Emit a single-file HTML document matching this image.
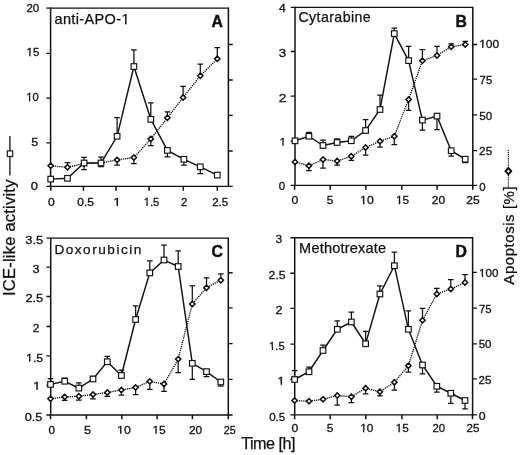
<!DOCTYPE html>
<html><head><meta charset="utf-8"><title>figure</title>
<style>
html,body{margin:0;padding:0;background:#fff;}
body{width:520px;height:455px;overflow:hidden;}
svg{display:block;filter:grayscale(1);}
text{font-family:"Liberation Sans", sans-serif;fill:#111;}
.t{stroke:#111;stroke-width:0.3px;}
.b{font-weight:bold;}
</style></head>
<body>
<svg width="520" height="455" viewBox="0 0 520 455">
<rect width="520" height="455" fill="#fff"/>
<path d="M50.6 8.1H228.4M50.6 186.4H228.4" fill="none" stroke="#111" stroke-width="1.3"/>
<path d="M50.6 7.45V187.05M228.4 7.45V187.05" fill="none" stroke="#111" stroke-width="1.5"/>
<path d="M46.30 8.1H50.6M46.30 53.4H50.6M46.30 98.1H50.6M46.30 142.9H50.6M46.30 186.4H50.6M228.4 44.5H232.70M228.4 80.0H232.70M228.4 115.4H232.70M228.4 151.0H232.70M228.4 186.4H232.70" stroke="#111" stroke-width="1.3"/>
<path d="M50.85 186.4V190.70M83.46 186.4V190.70M116.08 186.4V190.70M149.1 186.4V190.70M183.3 186.4V190.70M217.3 186.4V190.70" stroke="#111" stroke-width="1.5"/>
<text x="26.42" y="11.72" class="t" font-size="11.4" textLength="12.83" lengthAdjust="spacingAndGlyphs">20</text>
<text x="26.49" y="56.32" class="t" font-size="11.4" textLength="12.79" lengthAdjust="spacingAndGlyphs">15</text>
<text x="26.33" y="101.42" class="t" font-size="11.4" textLength="12.41" lengthAdjust="spacingAndGlyphs">10</text>
<text x="31.20" y="145.57" class="t" font-size="11.4" textLength="6.92" lengthAdjust="spacingAndGlyphs">5</text>
<text x="30.89" y="190.22" class="t" font-size="11.4" textLength="7.21" lengthAdjust="spacingAndGlyphs">0</text>
<text x="47.93" y="206.02" class="t" font-size="11.4" textLength="6.75" lengthAdjust="spacingAndGlyphs">0</text>
<text x="77.33" y="206.02" class="t" font-size="11.4" textLength="16.67" lengthAdjust="spacingAndGlyphs">0.5</text>
<text x="113.22" y="206.02" class="t" font-size="11.4" textLength="7.61" lengthAdjust="spacingAndGlyphs">1</text>
<text x="143.72" y="206.02" class="t" font-size="11.4" textLength="15.66" lengthAdjust="spacingAndGlyphs">1.5</text>
<text x="181.13" y="206.02" class="t" font-size="11.4" textLength="6.35" lengthAdjust="spacingAndGlyphs">2</text>
<text x="212.22" y="206.02" class="t" font-size="11.4" textLength="15.96" lengthAdjust="spacingAndGlyphs">2.5</text>
<polyline points="50.7,165.8 67.5,167.3 84.1,163.5 101.0,163 117.1,159.9 133.9,157.5 150.8,138.9 167.4,117.8 183.1,97.5 200.3,75.8 217.3,58.75" fill="none" stroke="#111" stroke-width="1.35" stroke-dasharray="1.25 0.9"/>
<path d="M67.5 167.3V162.7M64.7 162.7H70.3M84.1 163.5V169.6M81.3 169.6H86.9M101.0 163V166.5M98.2 166.5H103.8M117.1 159.9V165M114.3 165H119.9M133.9 157.5V163.7M131.1 163.7H136.7M150.8 138.9V145.5M148.0 145.5H153.6M167.4 117.8V111.9M164.6 111.9H170.2M183.1 97.5V86.3M180.3 86.3H185.9M200.3 75.8V64.1M197.5 64.1H203.1M217.3 58.75V47.5M214.5 47.5H220.1" stroke="#111" stroke-width="1.25" fill="none"/>
<path d="M48.05 165.8L50.7 163.15L53.35 165.8L50.7 168.45Z" fill="#fff" stroke="#111" stroke-width="1.5"/>
<path d="M64.85 167.3L67.5 164.65L70.15 167.3L67.5 169.95Z" fill="#fff" stroke="#111" stroke-width="1.5"/>
<path d="M81.45 163.5L84.1 160.85L86.75 163.5L84.1 166.15Z" fill="#fff" stroke="#111" stroke-width="1.5"/>
<path d="M98.35 163L101.0 160.35L103.65 163L101.0 165.65Z" fill="#fff" stroke="#111" stroke-width="1.5"/>
<path d="M114.45 159.9L117.1 157.25L119.75 159.9L117.1 162.55Z" fill="#fff" stroke="#111" stroke-width="1.5"/>
<path d="M131.25 157.5L133.9 154.85L136.55 157.5L133.9 160.15Z" fill="#fff" stroke="#111" stroke-width="1.5"/>
<path d="M148.15 138.9L150.8 136.25L153.45 138.9L150.8 141.55Z" fill="#fff" stroke="#111" stroke-width="1.5"/>
<path d="M164.75 117.8L167.4 115.15L170.05 117.8L167.4 120.45Z" fill="#fff" stroke="#111" stroke-width="1.5"/>
<path d="M180.45 97.5L183.1 94.85L185.75 97.5L183.1 100.15Z" fill="#fff" stroke="#111" stroke-width="1.5"/>
<path d="M197.65 75.8L200.3 73.15L202.95 75.8L200.3 78.45Z" fill="#fff" stroke="#111" stroke-width="1.5"/>
<path d="M214.65 58.75L217.3 56.1L219.95 58.75L217.3 61.4Z" fill="#fff" stroke="#111" stroke-width="1.5"/>
<polyline points="50.7,179.1 67.5,178.3 84.1,163 101.0,163 117.1,136.3 133.9,66.5 150.8,119.3 167.4,150.4 183.9,159.3 200.3,166.8 217.3,175.1" fill="none" stroke="#111" stroke-width="1.45"/>
<path d="M84.1 163V157.3M81.3 157.3H86.9M101.0 163V157M98.2 157H103.8M117.1 136.3V117.5M114.3 117.5H119.9M133.9 66.5V49.9M131.1 49.9H136.7M150.8 119.3V102.8M148.0 102.8H153.6M167.4 150.4V156.9M164.6 156.9H170.2M183.9 159.3V165.2M181.1 165.2H186.7M200.3 166.8V173.5M197.5 173.5H203.1" stroke="#111" stroke-width="1.25" fill="none"/>
<rect x="47.90" y="176.30" width="5.6" height="5.6" fill="#fff" stroke="#111" stroke-width="1.15"/>
<rect x="64.70" y="175.50" width="5.6" height="5.6" fill="#fff" stroke="#111" stroke-width="1.15"/>
<rect x="81.30" y="160.20" width="5.6" height="5.6" fill="#fff" stroke="#111" stroke-width="1.15"/>
<rect x="98.20" y="160.20" width="5.6" height="5.6" fill="#fff" stroke="#111" stroke-width="1.15"/>
<rect x="114.30" y="133.50" width="5.6" height="5.6" fill="#fff" stroke="#111" stroke-width="1.15"/>
<rect x="131.10" y="63.70" width="5.6" height="5.6" fill="#fff" stroke="#111" stroke-width="1.15"/>
<rect x="148.00" y="116.50" width="5.6" height="5.6" fill="#fff" stroke="#111" stroke-width="1.15"/>
<rect x="164.60" y="147.60" width="5.6" height="5.6" fill="#fff" stroke="#111" stroke-width="1.15"/>
<rect x="181.10" y="156.50" width="5.6" height="5.6" fill="#fff" stroke="#111" stroke-width="1.15"/>
<rect x="197.50" y="164.00" width="5.6" height="5.6" fill="#fff" stroke="#111" stroke-width="1.15"/>
<rect x="214.50" y="172.30" width="5.6" height="5.6" fill="#fff" stroke="#111" stroke-width="1.15"/>
<text x="54.48" y="24.30" font-size="14.5" class="l" textLength="75.05" lengthAdjust="spacing" stroke="#111" stroke-width="0.25">anti-APO-1</text>
<text x="211.51" y="26.90" font-size="15.8" class="b" textLength="11.11" lengthAdjust="spacing" stroke="#111" stroke-width="0.45">A</text>
<path d="M295.0 7.4H472.8M295.0 185.4H472.8" fill="none" stroke="#111" stroke-width="1.3"/>
<path d="M295.0 6.75V186.05M472.8 6.75V186.05" fill="none" stroke="#111" stroke-width="1.5"/>
<path d="M290.70 7.4H295.0M290.70 51.5H295.0M290.70 96.2H295.0M290.70 141.4H295.0M290.70 185.4H295.0M472.8 44.5H477.10M472.8 79.1H477.10M472.8 114.9H477.10M472.8 150.6H477.10M472.8 185.4H477.10" stroke="#111" stroke-width="1.3"/>
<path d="M294.6 185.4V189.70M330.2 185.4V189.70M365.9 185.4V189.70M401.8 185.4V189.70M437.1 185.4V189.70M472.75 185.4V189.70" stroke="#111" stroke-width="1.5"/>
<text x="278.92" y="12.47" class="t" font-size="11.4" textLength="6.73" lengthAdjust="spacingAndGlyphs">4</text>
<text x="278.89" y="57.47" class="t" font-size="11.4" textLength="7.39" lengthAdjust="spacingAndGlyphs">3</text>
<text x="278.75" y="102.47" class="t" font-size="11.4" textLength="7.61" lengthAdjust="spacingAndGlyphs">2</text>
<text x="279.46" y="145.77" class="t" font-size="11.4" textLength="6.62" lengthAdjust="spacingAndGlyphs">1</text>
<text x="278.75" y="190.37" class="t" font-size="11.4" textLength="6.40" lengthAdjust="spacingAndGlyphs">0</text>
<text x="479.20" y="48.02" class="t" font-size="11.4" textLength="20.07" lengthAdjust="spacingAndGlyphs">100</text>
<text x="479.62" y="83.77" class="t" font-size="11.4" textLength="12.55" lengthAdjust="spacingAndGlyphs">75</text>
<text x="479.23" y="119.67" class="t" font-size="11.4" textLength="12.92" lengthAdjust="spacingAndGlyphs">50</text>
<text x="479.11" y="155.17" class="t" font-size="11.4" textLength="13.09" lengthAdjust="spacingAndGlyphs">25</text>
<text x="479.25" y="190.72" class="t" font-size="11.4" textLength="6.40" lengthAdjust="spacingAndGlyphs">0</text>
<text x="291.53" y="204.32" class="t" font-size="11.4" textLength="6.75" lengthAdjust="spacingAndGlyphs">0</text>
<text x="326.73" y="204.32" class="t" font-size="11.4" textLength="6.57" lengthAdjust="spacingAndGlyphs">5</text>
<text x="360.13" y="204.32" class="t" font-size="11.4" textLength="13.55" lengthAdjust="spacingAndGlyphs">10</text>
<text x="396.06" y="204.32" class="t" font-size="11.4" textLength="13.13" lengthAdjust="spacingAndGlyphs">15</text>
<text x="431.80" y="204.32" class="t" font-size="11.4" textLength="13.37" lengthAdjust="spacingAndGlyphs">20</text>
<text x="466.39" y="204.32" class="t" font-size="11.4" textLength="13.41" lengthAdjust="spacingAndGlyphs">25</text>
<polyline points="295.0,162 308.9,165.75 323.0,159.5 337.1,161 351.3,156.25 365.6,147.5 380.0,141.25 394.3,136.25 408.6,99.5 422.4,60.75 437.0,55.5 451.2,46.75 465.2,44.5" fill="none" stroke="#111" stroke-width="1.35" stroke-dasharray="1.25 0.9"/>
<path d="M308.9 165.75V170.5M306.1 170.5H311.7M323.0 159.5V168M320.2 168H325.8M337.1 161V165M334.3 165H339.9M351.3 156.25V160.3M348.5 160.3H354.1M365.6 147.5V155M362.8 155H368.4M380.0 141.25V147M377.2 147H382.8M394.3 136.25V144.5M391.5 144.5H397.1M408.6 99.5V110.3M405.8 110.3H411.4M422.4 60.75V49.5M419.6 49.5H425.2M437.0 55.5V46.25M434.2 46.25H439.8M451.2 46.75V43.75M448.4 43.75H454.0M465.2 44.5V41.25M462.4 41.25H468.0" stroke="#111" stroke-width="1.25" fill="none"/>
<path d="M292.35 162L295.0 159.35L297.65 162L295.0 164.65Z" fill="#fff" stroke="#111" stroke-width="1.5"/>
<path d="M306.25 165.75L308.9 163.1L311.55 165.75L308.9 168.4Z" fill="#fff" stroke="#111" stroke-width="1.5"/>
<path d="M320.35 159.5L323.0 156.85L325.65 159.5L323.0 162.15Z" fill="#fff" stroke="#111" stroke-width="1.5"/>
<path d="M334.45 161L337.1 158.35L339.75 161L337.1 163.65Z" fill="#fff" stroke="#111" stroke-width="1.5"/>
<path d="M348.65 156.25L351.3 153.6L353.95 156.25L351.3 158.9Z" fill="#fff" stroke="#111" stroke-width="1.5"/>
<path d="M362.95 147.5L365.6 144.85L368.25 147.5L365.6 150.15Z" fill="#fff" stroke="#111" stroke-width="1.5"/>
<path d="M377.35 141.25L380.0 138.6L382.65 141.25L380.0 143.9Z" fill="#fff" stroke="#111" stroke-width="1.5"/>
<path d="M391.65 136.25L394.3 133.6L396.95 136.25L394.3 138.9Z" fill="#fff" stroke="#111" stroke-width="1.5"/>
<path d="M405.95 99.5L408.6 96.85L411.25 99.5L408.6 102.15Z" fill="#fff" stroke="#111" stroke-width="1.5"/>
<path d="M419.75 60.75L422.4 58.1L425.05 60.75L422.4 63.4Z" fill="#fff" stroke="#111" stroke-width="1.5"/>
<path d="M434.35 55.5L437.0 52.85L439.65 55.5L437.0 58.15Z" fill="#fff" stroke="#111" stroke-width="1.5"/>
<path d="M448.55 46.75L451.2 44.1L453.85 46.75L451.2 49.4Z" fill="#fff" stroke="#111" stroke-width="1.5"/>
<path d="M462.55 44.5L465.2 41.85L467.85 44.5L465.2 47.15Z" fill="#fff" stroke="#111" stroke-width="1.5"/>
<polyline points="295.0,140.8 308.9,136.25 323.0,145.5 337.1,142.5 351.3,140.75 365.6,130.5 380.0,109.5 394.3,33.6 408.6,60.6 422.4,120.1 437.0,116.1 451.2,150.7 465.2,159.2" fill="none" stroke="#111" stroke-width="1.45"/>
<path d="M308.9 136.25V132.4M306.1 132.4H311.7M323.0 145.5V140M320.2 140H325.8M337.1 142.5V138.75M334.3 138.75H339.9M351.3 140.75V136.25M348.5 136.25H354.1M365.6 130.5V119.5M362.8 119.5H368.4M380.0 109.5V95M377.2 95H382.8M394.3 33.6V28M391.5 28H397.1M408.6 60.6V46.25M405.8 46.25H411.4M422.4 120.1V130.1M419.6 130.1H425.2M437.0 116.1V129.6M434.2 129.6H439.8M451.2 150.7V156M448.4 156H454.0M465.2 159.2V162.6M462.4 162.6H468.0" stroke="#111" stroke-width="1.25" fill="none"/>
<rect x="292.20" y="138.00" width="5.6" height="5.6" fill="#fff" stroke="#111" stroke-width="1.15"/>
<rect x="306.10" y="133.45" width="5.6" height="5.6" fill="#fff" stroke="#111" stroke-width="1.15"/>
<rect x="320.20" y="142.70" width="5.6" height="5.6" fill="#fff" stroke="#111" stroke-width="1.15"/>
<rect x="334.30" y="139.70" width="5.6" height="5.6" fill="#fff" stroke="#111" stroke-width="1.15"/>
<rect x="348.50" y="137.95" width="5.6" height="5.6" fill="#fff" stroke="#111" stroke-width="1.15"/>
<rect x="362.80" y="127.70" width="5.6" height="5.6" fill="#fff" stroke="#111" stroke-width="1.15"/>
<rect x="377.20" y="106.70" width="5.6" height="5.6" fill="#fff" stroke="#111" stroke-width="1.15"/>
<rect x="391.50" y="30.80" width="5.6" height="5.6" fill="#fff" stroke="#111" stroke-width="1.15"/>
<rect x="405.80" y="57.80" width="5.6" height="5.6" fill="#fff" stroke="#111" stroke-width="1.15"/>
<rect x="419.60" y="117.30" width="5.6" height="5.6" fill="#fff" stroke="#111" stroke-width="1.15"/>
<rect x="434.20" y="113.30" width="5.6" height="5.6" fill="#fff" stroke="#111" stroke-width="1.15"/>
<rect x="448.40" y="147.90" width="5.6" height="5.6" fill="#fff" stroke="#111" stroke-width="1.15"/>
<rect x="462.40" y="156.40" width="5.6" height="5.6" fill="#fff" stroke="#111" stroke-width="1.15"/>
<text x="298.48" y="22.40" font-size="14.2" class="l" textLength="72.15" lengthAdjust="spacing" stroke="#111" stroke-width="0.25">Cytarabine</text>
<text x="455.44" y="26.60" font-size="15.8" class="b" textLength="11.07" lengthAdjust="spacing" stroke="#111" stroke-width="0.45">B</text>
<path d="M50.7 238.2H228.3M50.7 415.0H228.3" fill="none" stroke="#111" stroke-width="1.3"/>
<path d="M50.7 237.55V415.65M228.3 237.55V415.65" fill="none" stroke="#111" stroke-width="1.5"/>
<path d="M46.40 238.2H50.7M46.40 267.2H50.7M46.40 296.5H50.7M46.40 326.5H50.7M46.40 355.8H50.7M46.40 385.3H50.7M46.40 415.0H50.7M228.3 272.75H232.60M228.3 307.9H232.60M228.3 343.7H232.60M228.3 379.3H232.60M228.3 415.0H232.60" stroke="#111" stroke-width="1.3"/>
<path d="M50.5 415.0V419.30M86.4 415.0V419.30M121.8 415.0V419.30M157.1 415.0V419.30M192.4 415.0V419.30M228.3 415.0V419.30" stroke="#111" stroke-width="1.5"/>
<text x="25.31" y="243.92" class="t" font-size="11.4" textLength="17.93" lengthAdjust="spacingAndGlyphs">3.5</text>
<text x="32.52" y="273.17" class="t" font-size="11.4" textLength="7.04" lengthAdjust="spacingAndGlyphs">3</text>
<text x="25.46" y="301.82" class="t" font-size="11.4" textLength="17.78" lengthAdjust="spacingAndGlyphs">2.5</text>
<text x="32.89" y="332.12" class="t" font-size="11.4" textLength="6.71" lengthAdjust="spacingAndGlyphs">2</text>
<text x="26.12" y="361.57" class="t" font-size="11.4" textLength="17.10" lengthAdjust="spacingAndGlyphs">1.5</text>
<text x="32.97" y="389.77" class="t" font-size="11.4" textLength="7.61" lengthAdjust="spacingAndGlyphs">1</text>
<text x="24.70" y="421.27" class="t" font-size="11.4" textLength="17.63" lengthAdjust="spacingAndGlyphs">0.5</text>
<text x="48.64" y="433.72" class="t" font-size="11.4" textLength="6.52" lengthAdjust="spacingAndGlyphs">0</text>
<text x="83.99" y="433.72" class="t" font-size="11.4" textLength="7.04" lengthAdjust="spacingAndGlyphs">5</text>
<text x="117.12" y="433.72" class="t" font-size="11.4" textLength="13.66" lengthAdjust="spacingAndGlyphs">10</text>
<text x="152.45" y="433.72" class="t" font-size="11.4" textLength="13.25" lengthAdjust="spacingAndGlyphs">15</text>
<text x="188.91" y="433.72" class="t" font-size="11.4" textLength="13.16" lengthAdjust="spacingAndGlyphs">20</text>
<text x="223.86" y="433.72" class="t" font-size="11.4" textLength="12.00" lengthAdjust="spacingAndGlyphs">25</text>
<polyline points="50.5,398.8 64.7,396.9 78.8,396.25 93.0,394.5 107.3,392.5 121.4,390 135.6,387.5 149.8,381.4 164.0,384 178.2,359.1 192.3,304 206.5,287.75 220.8,280.25" fill="none" stroke="#111" stroke-width="1.35" stroke-dasharray="1.25 0.9"/>
<path d="M64.7 396.9V400.3M61.9 400.3H67.5M78.8 396.25V400M76.0 400H81.6M93.0 394.5V398.75M90.2 398.75H95.8M107.3 392.5V396.25M104.5 396.25H110.1M121.4 390V395M118.6 395H124.2M135.6 387.5V394.5M132.8 394.5H138.4M149.8 381.4V389.3M147.0 389.3H152.6M164.0 384V391.3M161.2 391.3H166.8M178.2 359.1V372.7M175.4 372.7H181.0M192.3 304V285.75M189.5 285.75H195.1M206.5 287.75V277.75M203.7 277.75H209.3M220.8 280.25V273.75M218.0 273.75H223.6" stroke="#111" stroke-width="1.25" fill="none"/>
<path d="M47.85 398.8L50.5 396.15L53.15 398.8L50.5 401.45Z" fill="#fff" stroke="#111" stroke-width="1.5"/>
<path d="M62.05 396.9L64.7 394.25L67.35 396.9L64.7 399.55Z" fill="#fff" stroke="#111" stroke-width="1.5"/>
<path d="M76.15 396.25L78.8 393.6L81.45 396.25L78.8 398.9Z" fill="#fff" stroke="#111" stroke-width="1.5"/>
<path d="M90.35 394.5L93.0 391.85L95.65 394.5L93.0 397.15Z" fill="#fff" stroke="#111" stroke-width="1.5"/>
<path d="M104.65 392.5L107.3 389.85L109.95 392.5L107.3 395.15Z" fill="#fff" stroke="#111" stroke-width="1.5"/>
<path d="M118.75 390L121.4 387.35L124.05 390L121.4 392.65Z" fill="#fff" stroke="#111" stroke-width="1.5"/>
<path d="M132.95 387.5L135.6 384.85L138.25 387.5L135.6 390.15Z" fill="#fff" stroke="#111" stroke-width="1.5"/>
<path d="M147.15 381.4L149.8 378.75L152.45 381.4L149.8 384.05Z" fill="#fff" stroke="#111" stroke-width="1.5"/>
<path d="M161.35 384L164.0 381.35L166.65 384L164.0 386.65Z" fill="#fff" stroke="#111" stroke-width="1.5"/>
<path d="M175.55 359.1L178.2 356.45L180.85 359.1L178.2 361.75Z" fill="#fff" stroke="#111" stroke-width="1.5"/>
<path d="M189.65 304L192.3 301.35L194.95 304L192.3 306.65Z" fill="#fff" stroke="#111" stroke-width="1.5"/>
<path d="M203.85 287.75L206.5 285.1L209.15 287.75L206.5 290.4Z" fill="#fff" stroke="#111" stroke-width="1.5"/>
<path d="M218.15 280.25L220.8 277.6L223.45 280.25L220.8 282.9Z" fill="#fff" stroke="#111" stroke-width="1.5"/>
<polyline points="50.5,384.4 64.7,381.25 78.8,388.1 93.0,379 107.3,361.75 121.4,375.5 135.6,319.5 149.8,272.9 164.0,260 178.2,266.5 192.3,363.3 206.5,371.6 220.8,382" fill="none" stroke="#111" stroke-width="1.45"/>
<path d="M50.5 384.4V378.7M47.7 378.7H53.3M64.7 381.25V378.0M61.9 378.0H67.5M78.8 388.1V382.9M76.0 382.9H81.6M93.0 379V376.25M90.2 376.25H95.8M107.3 361.75V356.25M104.5 356.25H110.1M121.4 375.5V370M118.6 370H124.2M135.6 319.5V305.75M132.8 305.75H138.4M149.8 272.9V260.75M147.0 260.75H152.6M164.0 260V245M161.2 245H166.8M178.2 266.5V250.75M175.4 250.75H181.0M192.3 363.3V379.3M189.5 379.3H195.1M206.5 371.6V376.7M203.7 376.7H209.3M220.8 382V386M218.0 386H223.6" stroke="#111" stroke-width="1.25" fill="none"/>
<rect x="47.70" y="381.60" width="5.6" height="5.6" fill="#fff" stroke="#111" stroke-width="1.15"/>
<rect x="61.90" y="378.45" width="5.6" height="5.6" fill="#fff" stroke="#111" stroke-width="1.15"/>
<rect x="76.00" y="385.30" width="5.6" height="5.6" fill="#fff" stroke="#111" stroke-width="1.15"/>
<rect x="90.20" y="376.20" width="5.6" height="5.6" fill="#fff" stroke="#111" stroke-width="1.15"/>
<rect x="104.50" y="358.95" width="5.6" height="5.6" fill="#fff" stroke="#111" stroke-width="1.15"/>
<rect x="118.60" y="372.70" width="5.6" height="5.6" fill="#fff" stroke="#111" stroke-width="1.15"/>
<rect x="132.80" y="316.70" width="5.6" height="5.6" fill="#fff" stroke="#111" stroke-width="1.15"/>
<rect x="147.00" y="270.10" width="5.6" height="5.6" fill="#fff" stroke="#111" stroke-width="1.15"/>
<rect x="161.20" y="257.20" width="5.6" height="5.6" fill="#fff" stroke="#111" stroke-width="1.15"/>
<rect x="175.40" y="263.70" width="5.6" height="5.6" fill="#fff" stroke="#111" stroke-width="1.15"/>
<rect x="189.50" y="360.50" width="5.6" height="5.6" fill="#fff" stroke="#111" stroke-width="1.15"/>
<rect x="203.70" y="368.80" width="5.6" height="5.6" fill="#fff" stroke="#111" stroke-width="1.15"/>
<rect x="218.00" y="379.20" width="5.6" height="5.6" fill="#fff" stroke="#111" stroke-width="1.15"/>
<text x="54.38" y="253.70" font-size="13.6" class="l" textLength="87.00" lengthAdjust="spacing" stroke="#111" stroke-width="0.25">Doxorubicin</text>
<text x="211.55" y="257.20" font-size="15.8" class="b" textLength="10.78" lengthAdjust="spacing" stroke="#111" stroke-width="0.45">C</text>
<path d="M294.7 237.75H472.6M294.7 414.9H472.6" fill="none" stroke="#111" stroke-width="1.3"/>
<path d="M294.7 237.10V415.55M472.6 237.10V415.55" fill="none" stroke="#111" stroke-width="1.5"/>
<path d="M290.40 237.75H294.7M290.40 273.25H294.7M290.40 308.4H294.7M290.40 344.2H294.7M290.40 379.5H294.7M290.40 414.9H294.7M472.6 272.4H476.90M472.6 308.2H476.90M472.6 343.9H476.90M472.6 378.8H476.90M472.6 414.9H476.90" stroke="#111" stroke-width="1.3"/>
<path d="M294.6 414.9V419.20M330.2 414.9V419.20M365.8 414.9V419.20M401.9 414.9V419.20M437.3 414.9V419.20M472.5 414.9V419.20" stroke="#111" stroke-width="1.5"/>
<text x="275.64" y="243.27" class="t" font-size="11.4" textLength="6.69" lengthAdjust="spacingAndGlyphs">3</text>
<text x="268.59" y="279.37" class="t" font-size="11.4" textLength="16.92" lengthAdjust="spacingAndGlyphs">2.5</text>
<text x="275.47" y="314.47" class="t" font-size="11.4" textLength="6.96" lengthAdjust="spacingAndGlyphs">2</text>
<text x="269.12" y="350.02" class="t" font-size="11.4" textLength="15.55" lengthAdjust="spacingAndGlyphs">1.5</text>
<text x="277.32" y="384.82" class="t" font-size="11.4" textLength="7.61" lengthAdjust="spacingAndGlyphs">1</text>
<text x="269.15" y="420.92" class="t" font-size="11.4" textLength="16.03" lengthAdjust="spacingAndGlyphs">0.5</text>
<text x="479.09" y="277.17" class="t" font-size="11.4" textLength="19.26" lengthAdjust="spacingAndGlyphs">100</text>
<text x="478.92" y="312.67" class="t" font-size="11.4" textLength="12.66" lengthAdjust="spacingAndGlyphs">75</text>
<text x="478.74" y="347.77" class="t" font-size="11.4" textLength="12.70" lengthAdjust="spacingAndGlyphs">50</text>
<text x="478.62" y="383.92" class="t" font-size="11.4" textLength="12.87" lengthAdjust="spacingAndGlyphs">25</text>
<text x="478.72" y="419.82" class="t" font-size="11.4" textLength="6.86" lengthAdjust="spacingAndGlyphs">0</text>
<text x="291.53" y="432.32" class="t" font-size="11.4" textLength="6.75" lengthAdjust="spacingAndGlyphs">0</text>
<text x="326.73" y="432.32" class="t" font-size="11.4" textLength="6.57" lengthAdjust="spacingAndGlyphs">5</text>
<text x="360.17" y="432.32" class="t" font-size="11.4" textLength="13.09" lengthAdjust="spacingAndGlyphs">10</text>
<text x="395.67" y="432.32" class="t" font-size="11.4" textLength="13.02" lengthAdjust="spacingAndGlyphs">15</text>
<text x="432.42" y="432.32" class="t" font-size="11.4" textLength="12.72" lengthAdjust="spacingAndGlyphs">20</text>
<text x="466.41" y="432.32" class="t" font-size="11.4" textLength="12.98" lengthAdjust="spacingAndGlyphs">25</text>
<polyline points="294.6,400.5 309.0,401.25 323.0,399.25 337.3,395.5 351.4,396.75 365.6,388.25 379.9,391.75 394.4,382.25 408.4,365.75 422.5,320.25 436.8,294 450.8,289 465.0,282.5" fill="none" stroke="#111" stroke-width="1.35" stroke-dasharray="1.25 0.9"/>
<path d="M337.3 395.5V405M334.5 405H340.1M351.4 396.75V402.5M348.6 402.5H354.2M365.6 388.25V393.75M362.8 393.75H368.4M379.9 391.75V395.75M377.1 395.75H382.7M394.4 382.25V390M391.6 390H397.2M408.4 365.75V372M405.6 372H411.2M422.5 320.25V308.25M419.7 308.25H425.3M436.8 294V288.25M434.0 288.25H439.6M450.8 289V279.5M448.0 279.5H453.6M465.0 282.5V274.5M462.2 274.5H467.8" stroke="#111" stroke-width="1.25" fill="none"/>
<path d="M291.95 400.5L294.6 397.85L297.25 400.5L294.6 403.15Z" fill="#fff" stroke="#111" stroke-width="1.5"/>
<path d="M306.35 401.25L309.0 398.6L311.65 401.25L309.0 403.9Z" fill="#fff" stroke="#111" stroke-width="1.5"/>
<path d="M320.35 399.25L323.0 396.6L325.65 399.25L323.0 401.9Z" fill="#fff" stroke="#111" stroke-width="1.5"/>
<path d="M334.65 395.5L337.3 392.85L339.95 395.5L337.3 398.15Z" fill="#fff" stroke="#111" stroke-width="1.5"/>
<path d="M348.75 396.75L351.4 394.1L354.05 396.75L351.4 399.4Z" fill="#fff" stroke="#111" stroke-width="1.5"/>
<path d="M362.95 388.25L365.6 385.6L368.25 388.25L365.6 390.9Z" fill="#fff" stroke="#111" stroke-width="1.5"/>
<path d="M377.25 391.75L379.9 389.1L382.55 391.75L379.9 394.4Z" fill="#fff" stroke="#111" stroke-width="1.5"/>
<path d="M391.75 382.25L394.4 379.6L397.05 382.25L394.4 384.9Z" fill="#fff" stroke="#111" stroke-width="1.5"/>
<path d="M405.75 365.75L408.4 363.1L411.05 365.75L408.4 368.4Z" fill="#fff" stroke="#111" stroke-width="1.5"/>
<path d="M419.85 320.25L422.5 317.6L425.15 320.25L422.5 322.9Z" fill="#fff" stroke="#111" stroke-width="1.5"/>
<path d="M434.15 294L436.8 291.35L439.45 294L436.8 296.65Z" fill="#fff" stroke="#111" stroke-width="1.5"/>
<path d="M448.15 289L450.8 286.35L453.45 289L450.8 291.65Z" fill="#fff" stroke="#111" stroke-width="1.5"/>
<path d="M462.35 282.5L465.0 279.85L467.65 282.5L465.0 285.15Z" fill="#fff" stroke="#111" stroke-width="1.5"/>
<polyline points="294.6,379.5 309.0,371.75 323.0,350.5 337.3,329.3 351.4,322 365.6,343.75 379.9,294 394.4,265.75 408.4,329.3 422.5,365 436.8,386.25 450.8,393.25 465.0,400.5" fill="none" stroke="#111" stroke-width="1.45"/>
<path d="M294.6 379.5V370.5M291.8 370.5H297.4M309.0 371.75V367M306.2 367H311.8M323.0 350.5V345M320.2 345H325.8M337.3 329.3V320.75M334.5 320.75H340.1M351.4 322V312M348.6 312H354.2M365.6 343.75V331.25M362.8 331.25H368.4M379.9 294V285.75M377.1 285.75H382.7M394.4 265.75V252M391.6 252H397.2M408.4 329.3V310.75M405.6 310.75H411.2M422.5 365V373.75M419.7 373.75H425.3M436.8 386.25V392M434.0 392H439.6M450.8 393.25V403.25M448.0 403.25H453.6M465.0 400.5V408.75M462.2 408.75H467.8" stroke="#111" stroke-width="1.25" fill="none"/>
<rect x="291.80" y="376.70" width="5.6" height="5.6" fill="#fff" stroke="#111" stroke-width="1.15"/>
<rect x="306.20" y="368.95" width="5.6" height="5.6" fill="#fff" stroke="#111" stroke-width="1.15"/>
<rect x="320.20" y="347.70" width="5.6" height="5.6" fill="#fff" stroke="#111" stroke-width="1.15"/>
<rect x="334.50" y="326.50" width="5.6" height="5.6" fill="#fff" stroke="#111" stroke-width="1.15"/>
<rect x="348.60" y="319.20" width="5.6" height="5.6" fill="#fff" stroke="#111" stroke-width="1.15"/>
<rect x="362.80" y="340.95" width="5.6" height="5.6" fill="#fff" stroke="#111" stroke-width="1.15"/>
<rect x="377.10" y="291.20" width="5.6" height="5.6" fill="#fff" stroke="#111" stroke-width="1.15"/>
<rect x="391.60" y="262.95" width="5.6" height="5.6" fill="#fff" stroke="#111" stroke-width="1.15"/>
<rect x="405.60" y="326.50" width="5.6" height="5.6" fill="#fff" stroke="#111" stroke-width="1.15"/>
<rect x="419.70" y="362.20" width="5.6" height="5.6" fill="#fff" stroke="#111" stroke-width="1.15"/>
<rect x="434.00" y="383.45" width="5.6" height="5.6" fill="#fff" stroke="#111" stroke-width="1.15"/>
<rect x="448.00" y="390.45" width="5.6" height="5.6" fill="#fff" stroke="#111" stroke-width="1.15"/>
<rect x="462.20" y="397.70" width="5.6" height="5.6" fill="#fff" stroke="#111" stroke-width="1.15"/>
<text x="299.11" y="253.20" font-size="14.5" class="l" textLength="87.03" lengthAdjust="spacing" stroke="#111" stroke-width="0.25">Methotrexate</text>
<text x="455.44" y="256.60" font-size="15.8" class="b" textLength="11.52" lengthAdjust="spacing" stroke="#111" stroke-width="0.45">D</text>
<text transform="translate(14.50 295.93) rotate(-90)" font-size="16.6" class="ax" textLength="116.36" lengthAdjust="spacing" stroke="#111" stroke-width="0.25">ICE-like activity</text>
<path d="M9.9 135.9V175.4" stroke="#111" stroke-width="1.3"/>
<rect x="7.3" y="150.9" width="5.4" height="5.6" fill="#fff" stroke="#111" stroke-width="1.15"/>
<text transform="translate(513.80 284.63) rotate(-90)" font-size="15.0" class="ax" textLength="98.30" lengthAdjust="spacing" stroke="#111" stroke-width="0.25">Apoptosis [%]</text>
<path d="M508.4 149.9V186.8" stroke="#111" stroke-width="1.2" stroke-dasharray="1.1 1.0"/>
<path d="M505.6 171.2L508.4 168.1L511.2 171.2L508.4 174.3Z" fill="#fff" stroke="#111" stroke-width="2.0"/>
<text x="241.14" y="449.10" font-size="16.2" class="ax" textLength="54.42" lengthAdjust="spacing" stroke="#111" stroke-width="0.25">Time [h]</text>
<!--ONEFIX-->
<rect x="26.27" y="54.00" width="7.16" height="4.22" fill="#fff"/>
<rect x="29.24" y="54.00" width="1.32" height="2.32" fill="#111"/>
<rect x="26.08" y="99.00" width="7.02" height="4.32" fill="#fff"/>
<rect x="28.99" y="99.00" width="1.29" height="2.42" fill="#111"/>
<rect x="113.16" y="203.00" width="8.10" height="4.92" fill="#fff"/>
<rect x="116.51" y="203.00" width="1.51" height="3.02" fill="#111"/>
<rect x="143.48" y="203.00" width="7.06" height="4.92" fill="#fff"/>
<rect x="146.41" y="203.00" width="1.30" height="3.02" fill="#111"/>
<rect x="121.48" y="22.00" width="8.40" height="4.18" fill="#fff"/>
<rect x="124.97" y="22.00" width="1.53" height="2.30" fill="#111"/>
<rect x="279.27" y="143.00" width="7.33" height="4.67" fill="#fff"/>
<rect x="282.30" y="143.00" width="1.35" height="2.77" fill="#111"/>
<rect x="479.02" y="45.00" width="7.39" height="4.92" fill="#fff"/>
<rect x="482.08" y="45.00" width="1.36" height="3.02" fill="#111"/>
<rect x="359.96" y="202.00" width="7.46" height="4.22" fill="#fff"/>
<rect x="363.05" y="202.00" width="1.38" height="2.32" fill="#111"/>
<rect x="395.86" y="202.00" width="7.30" height="4.22" fill="#fff"/>
<rect x="398.88" y="202.00" width="1.34" height="2.32" fill="#111"/>
<rect x="25.96" y="359.00" width="7.51" height="4.47" fill="#fff"/>
<rect x="29.07" y="359.00" width="1.39" height="2.57" fill="#111"/>
<rect x="32.91" y="387.00" width="8.10" height="4.67" fill="#fff"/>
<rect x="36.26" y="387.00" width="1.51" height="2.77" fill="#111"/>
<rect x="116.96" y="431.00" width="7.50" height="4.62" fill="#fff"/>
<rect x="120.06" y="431.00" width="1.39" height="2.72" fill="#111"/>
<rect x="152.26" y="431.00" width="7.34" height="4.62" fill="#fff"/>
<rect x="155.30" y="431.00" width="1.35" height="2.72" fill="#111"/>
<rect x="268.87" y="347.00" width="7.03" height="4.92" fill="#fff"/>
<rect x="271.79" y="347.00" width="1.29" height="3.02" fill="#111"/>
<rect x="277.26" y="382.00" width="8.10" height="4.72" fill="#fff"/>
<rect x="280.61" y="382.00" width="1.51" height="2.82" fill="#111"/>
<rect x="478.87" y="275.00" width="7.18" height="4.07" fill="#fff"/>
<rect x="481.85" y="275.00" width="1.32" height="2.17" fill="#111"/>
<rect x="359.97" y="430.00" width="7.28" height="4.22" fill="#fff"/>
<rect x="362.98" y="430.00" width="1.34" height="2.32" fill="#111"/>
<rect x="395.46" y="430.00" width="7.25" height="4.22" fill="#fff"/>
<rect x="398.47" y="430.00" width="1.34" height="2.32" fill="#111"/>
<!--/ONEFIX-->
</svg>
</body></html>
